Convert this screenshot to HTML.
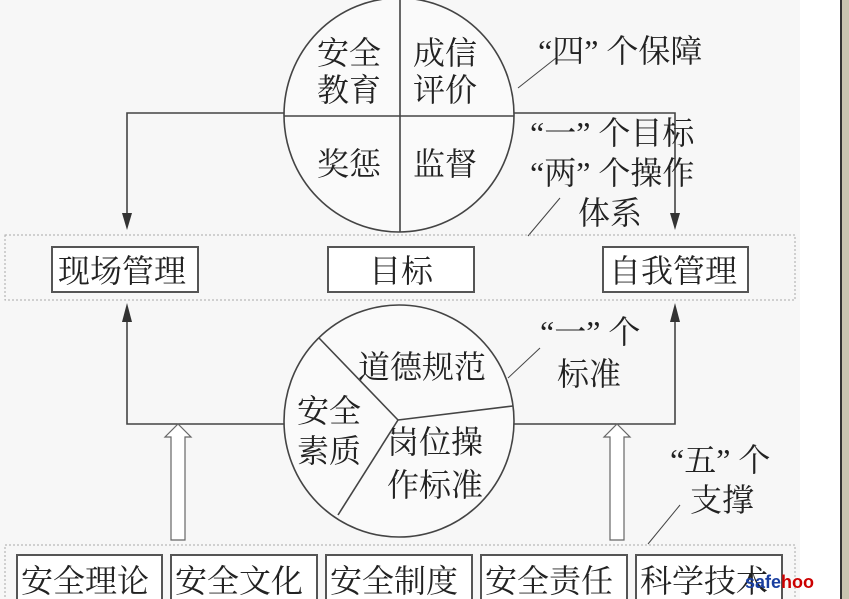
<!DOCTYPE html>
<html><head><meta charset="utf-8"><style>
html,body{margin:0;padding:0;background:#f6f6f6;}
svg{display:block;}
text{font-family:"Liberation Serif","Noto Serif CJK SC","Noto Sans CJK SC",serif;fill:#222;}
</style></head><body>
<svg width="849" height="599" viewBox="0 0 849 599" xmlns="http://www.w3.org/2000/svg">
<rect x="0" y="0" width="849" height="599" fill="#f7f7f7"/>
<rect x="800" y="0" width="40" height="599" fill="#ffffff"/>
<rect x="840" y="0" width="2" height="599" fill="#333"/>
<rect x="842" y="0" width="7" height="599" fill="#c8c4b0"/>
<g stroke="#444" stroke-width="1.6" fill="none">
<ellipse cx="399" cy="115" rx="115" ry="117" fill="#fafafa"/>
<line x1="400" y1="-2" x2="400" y2="232"/>
<line x1="284" y1="116" x2="514" y2="116"/>
<polyline points="284,113 127,113 127,218"/>
<polyline points="514,113 675,113 675,218"/>
<ellipse cx="399" cy="421" rx="115" ry="116" fill="#fafafa"/>
<line x1="398" y1="420" x2="319" y2="338"/>
<line x1="398" y1="420" x2="513" y2="406"/>
<line x1="398" y1="420" x2="338" y2="515"/>
<polyline points="284,424 127,424 127,318"/>
<polyline points="514,424 675,424 675,318"/>
<line x1="518" y1="88" x2="556" y2="58" stroke-width="1"/>
<line x1="528" y1="236" x2="560" y2="198" stroke-width="1"/>
<line x1="508" y1="378" x2="540" y2="348" stroke-width="1"/>
<line x1="648" y1="544" x2="680" y2="505" stroke-width="1"/>
<polygon points="171,540 171,437 165,437 178,424 191,437 185,437 185,540" fill="#fff" stroke="#666" stroke-width="1.2"/>
<polygon points="610,540 610,437 604,437 617,424 630,437 624,437 624,540" fill="#fff" stroke="#666" stroke-width="1.2"/>
<rect x="5" y="235" width="790" height="65" stroke="#aaa" stroke-width="1" stroke-dasharray="2,2"/>
<rect x="5" y="545" width="790" height="60" stroke="#aaa" stroke-width="1" stroke-dasharray="2,2"/>
<rect x="52" y="247" width="146" height="45" fill="#fff" stroke="#555" stroke-width="2"/>
<rect x="328" y="247" width="146" height="45" fill="#fff" stroke="#555" stroke-width="2"/>
<rect x="603" y="247" width="145" height="45" fill="#fff" stroke="#555" stroke-width="2"/>
<rect x="17" y="555" width="145" height="50" fill="#fff" stroke="#555" stroke-width="2"/>
<rect x="171" y="555" width="146" height="50" fill="#fff" stroke="#555" stroke-width="2"/>
<rect x="326" y="555" width="146" height="50" fill="#fff" stroke="#555" stroke-width="2"/>
<rect x="481" y="555" width="146" height="50" fill="#fff" stroke="#555" stroke-width="2"/>
<rect x="636" y="555" width="146" height="50" fill="#fff" stroke="#555" stroke-width="2"/>
</g>
<g fill="#333">
<polygon points="127,230 122,213 132,213"/>
<polygon points="675,230 670,213 680,213"/>
<polygon points="127,303 122,322 132,322"/>
<polygon points="675,303 670,322 680,322"/>
</g>
<g font-size="32">
<text x="317" y="64">安全</text>
<text x="317" y="101">教育</text>
<text x="413" y="64">成信</text>
<text x="413" y="101">评价</text>
<text x="317" y="175">奖惩</text>
<text x="413" y="175">监督</text>
<text x="538" y="62">“四” 个保障</text>
<text x="530" y="144">“一” 个目标</text>
<text x="530" y="184">“两” 个操作</text>
<text x="578" y="224">体系</text>
<text x="58" y="282">现场管理</text>
<text x="369" y="282">目标</text>
<text x="609" y="282">自我管理</text>
<text x="358" y="378">道德规范</text>
<text x="297" y="422">安全</text>
<text x="297" y="462">素质</text>
<text x="387" y="453">岗位操</text>
<text x="387" y="496">作标准</text>
<text x="540" y="343">“一” 个</text>
<text x="557" y="385">标准</text>
<text x="670" y="471">“五” 个</text>
<text x="690" y="511">支撑</text>
<text x="21" y="592">安全理论</text>
<text x="175" y="592">安全文化</text>
<text x="330" y="592">安全制度</text>
<text x="485" y="592">安全责任</text>
<text x="640" y="592">科学技术</text>
</g>
<text x="745" y="588" font-size="18" font-weight="bold" style="font-family:'Liberation Sans',sans-serif;fill:#1a3fa0">safe<tspan style="fill:#c00">hoo</tspan></text>
</svg>
</body></html>
